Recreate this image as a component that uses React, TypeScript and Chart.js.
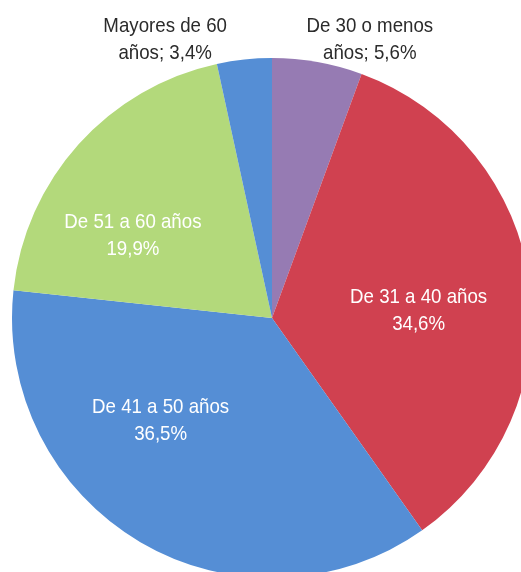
import React, { useEffect, useRef } from "react";
import { Chart, registerables } from "chart.js";

Chart.register(...registerables);

const categories = [
  "De 30 o menos años",
  "De 31 a 40 años",
  "De 41 a 50 años",
  "De 51 a 60 años",
  "Mayores de 60 años",
];
const values = [5.6, 34.6, 36.5, 19.9, 3.4];
const colors = ["#967BB3", "#D04150", "#558ED5", "#B3D97B", "#558ED5"];

// label placement: outside?, angular offset from slice middle (deg), radius factor
const labelOutside = [true, false, false, false, true];
const labelAngleOffset = [9.2, 4.1, 17.4, -10.8, -14.8];
const labelRadius = [1.139, 0.565, 0.578, 0.625, 1.151];

const FONT = '21px "Liberation Sans Narrow", "Arial Narrow", "Liberation Sans", Arial, sans-serif';
const X_SCALE = 0.89;

const fmt = (v: number) => v.toFixed(1).replace(".", ",") + "%";

const labelPlugin = {
  id: "sliceLabels",
  afterDraw(chart: any) {
    const ctx = chart.ctx;
    const meta = chart.getDatasetMeta(0);
    ctx.save();
    ctx.font = FONT;
    ctx.textAlign = "center";
    ctx.textBaseline = "alphabetic";
    meta.data.forEach((arc: any, i: number) => {
      const { x, y, startAngle, endAngle, outerRadius } = arc.getProps(
        ["x", "y", "startAngle", "endAngle", "outerRadius"],
        true
      );
      const mid = (startAngle + endAngle) / 2 + (labelAngleOffset[i] * Math.PI) / 180;
      const r = outerRadius * labelRadius[i];
      const lx = x + r * Math.cos(mid);
      const ly = y + r * Math.sin(mid);
      let lines: string[];
      if (labelOutside[i]) {
        const words = categories[i].split(" ");
        lines = [words.slice(0, -1).join(" "), words[words.length - 1] + "; " + fmt(values[i])];
        ctx.fillStyle = "#2b2b2b";
      } else {
        lines = [categories[i], fmt(values[i])];
        ctx.fillStyle = "#FFFFFF";
      }
      const lh = 27;
      lines.forEach((t, k) => {
        const cy = ly + (k - (lines.length - 1) / 2) * lh;
        ctx.save();
        ctx.translate(lx, cy + 7.5);
        ctx.scale(X_SCALE, 1);
        ctx.fillText(t, 0, 0);
        ctx.restore();
      });
    });
    ctx.restore();
  },
};

export default function App() {
  const ref = useRef<HTMLCanvasElement>(null);
  useEffect(() => {
    document.body.style.margin = "0";
    const chart = new Chart(ref.current!, {
      type: "pie",
      data: {
        labels: categories,
        datasets: [
          {
            data: values,
            backgroundColor: colors,
            borderWidth: 0,
          },
        ],
      },
      options: {
        responsive: false,
        animation: false,
        layout: { padding: 12 },
        plugins: {
          legend: { display: false },
          tooltip: { enabled: false },
        },
      },
      plugins: [labelPlugin],
    });
    return () => chart.destroy();
  }, []);
  return (
    <div
      style={{
        position: "absolute",
        left: 0,
        top: 0,
        width: 521,
        height: 572,
        overflow: "hidden",
        background: "#fff",
      }}
    >
      <canvas ref={ref} width={544} height={636} style={{ width: 544, height: 636, display: "block" }} />
    </div>
  );
}
